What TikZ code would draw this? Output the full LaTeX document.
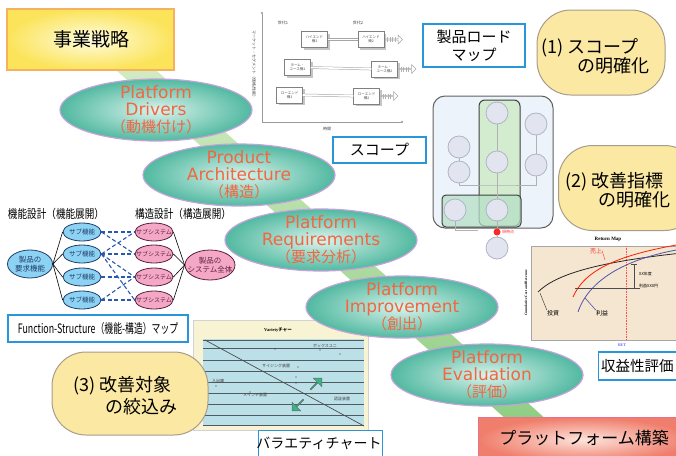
\documentclass[tikz,border=0pt]{standalone}
\usepackage{fontspec}
\usepackage{graphicx}
\setmainfont{Noto Sans CJK JP}
\newfontfamily\jp{Noto Sans CJK JP}
\newfontfamily\lat{DejaVu Sans}
\newfontfamily\ser{Liberation Serif}
\usetikzlibrary{shapes.geometric,shapes.arrows,arrows.meta}
\definecolor{bandTop}{HTML}{D3EBC3}
\definecolor{bandBot}{HTML}{8ACB7E}
\definecolor{tealIn}{HTML}{D9F3EC}
\definecolor{tealOut}{HTML}{52B9A1}
\definecolor{ellBorder}{HTML}{C3A3DA}
\definecolor{ellText}{HTML}{F26640}
\definecolor{yBox}{HTML}{FBE8A2}
\definecolor{yBoxBorder}{HTML}{A89C8C}
\definecolor{blueBox}{HTML}{2896D8}
\definecolor{stratIn}{HTML}{FFFCE0}
\definecolor{stratOut}{HTML}{FBE45A}
\definecolor{stratBorder}{HTML}{F5B060}
\definecolor{pfIn}{HTML}{FDE4DC}
\definecolor{pfOut}{HTML}{F07E6C}
\definecolor{pfBorder}{HTML}{E8708A}
\definecolor{sfBlue}{HTML}{8CD2F2}
\definecolor{sfBorder}{HTML}{203C6A}
\definecolor{ssPink}{HTML}{F5A8C6}
\definecolor{ssBorder}{HTML}{5A2040}
\definecolor{dashBlue}{HTML}{2858B0}
\definecolor{netBg}{HTML}{EDF3FA}
\definecolor{netGreen}{HTML}{D3ECCF}
\definecolor{netGreen2}{HTML}{B5DFC6}
\definecolor{netCirc}{HTML}{E2E5EF}
\definecolor{netCircB}{HTML}{AEB5C4}
\definecolor{rmBg}{HTML}{F4E6D0}
\definecolor{vcFrame}{HTML}{F8F3D2}
\definecolor{vcBlue}{HTML}{BCE0E8}
\definecolor{vcArrow}{HTML}{38B48A}
\begin{document}
\begin{tikzpicture}[x=1pt,y=-1pt,
  ell/.style={ellipse, draw=ellBorder, line width=1.2pt, inner color=tealIn, outer color=tealOut, minimum width=192pt, minimum height=62pt, inner sep=0pt},
  elltext/.style={text=ellText, align=center, font=\lat\fontsize{17}{17}\selectfont, inner sep=0pt},
  bbox/.style={draw=blueBox, line width=1.2pt, fill=white, inner sep=0pt, align=center},
  ybox/.style={draw=yBoxBorder, line width=1pt, fill=yBox, rounded corners=34pt},
  ytext/.style={align=left, font=\jp\fontsize{18}{19}\selectfont, inner sep=0pt, anchor=west},
  sf/.style={ellipse, draw=sfBorder, line width=0.8pt, fill=sfBlue, minimum width=38pt, minimum height=18pt, inner sep=0pt, inner xsep=-3pt, font=\jp\fontsize{6.5}{7}\selectfont, text=sfBorder},
  ss/.style={ellipse, draw=ssBorder, line width=0.8pt, fill=ssPink, minimum width=38pt, minimum height=18pt, inner sep=0pt, inner xsep=-5pt, font=\jp\fontsize{6}{7}\selectfont, text=ssBorder},
  fsline/.style={draw=black, line width=0.6pt},
  fsdash/.style={draw=dashBlue, line width=1.1pt, dash pattern=on 4pt off 2.5pt},
  sbox/.style={draw=gray, fill=white, line width=0.5pt, inner sep=0pt, minimum width=26pt, minimum height=16pt, align=center, font=\jp\fontsize{3.5}{4}\selectfont, text=gray!60!black},
  ncirc/.style={circle, draw=netCircB, fill=netCirc, line width=0.8pt, minimum size=22pt, inner sep=0pt},
  tinytext/.style={font=\jp\fontsize{4}{4.5}\selectfont, text=gray!50!black, inner sep=0pt},
  dblarrow/.style={draw=gray!70, line width=0.5pt, double=white, double distance=1.6pt},
]
\useasboundingbox (0,0) rectangle (676,455);
\clip (0,0) rectangle (676,455);
% band
\shade[top color=bandTop, bottom color=bandBot] (107,62) -- (147,62) -- (586,455) -- (546,455) -- cycle;

% ---- scope chart (top centre)
\draw[gray!80, line width=0.8pt, {Circle[length=2pt]}-{Circle[length=2pt]}] (262,12) -- (262,122) -- (403,122);
\node[tinytext] (g1) at (283,23) {世代1};
\node[tinytext] (g2) at (358,23) {世代2};
\node[tinytext] (tm) at (327,129) {時間};
\node[tinytext, rotate=-90] (ax) at (254,65) {マーケット・セグメント（価格/性能）};
\foreach \n/\x/\y/\t in {h1/314.5/39.5/ハイエンド\\機1, h2/371/39.5/ハイエンド\\機2, m1/297.5/67.5/ホーム・\\ユース機1, m2/384.5/69/ホーム・\\ユース機2, l1/289.5/95/ローエンド\\機1, l2/366.5/96/ローエンド\\機2}{
  \fill[gray!45] (\x-11,\y-6) rectangle (\x+15,\y+10);
  \node[sbox] (\n) at (\x,\y) {\t};
}
\draw[dblarrow] (h1.east) -- (h2.west);
\draw[dblarrow] (m1.east) -- (m2.west);
\draw[dblarrow] (l1.east) -- (l2.west);
\foreach \n in {h2,m2,l2}{
  \node[single arrow, draw=gray!70, fill=white, line width=0.5pt, minimum height=17pt, minimum width=9pt, single arrow head extend=1.5pt, inner sep=0pt, anchor=west] (\n a) at ([xshift=1pt]\n.east) {};
  \foreach \d in {3,5.5,8,10.5}{\draw[gray!60, line width=0.4pt] ([xshift=\d pt,yshift=2.5pt]\n.east) -- ([xshift=\d pt,yshift=-2.5pt]\n.east);}
}

% ---- network (right centre)
\draw[fill=netBg, draw=gray!75!black, line width=1pt, rounded corners=12pt] (433,96) rectangle (553,228);
\draw[fill=netGreen, draw=gray!50!black, line width=1pt, rounded corners=6pt] (479,100) rectangle (520,226);
\draw[fill=netGreen2, fill opacity=0.75, draw=gray!50!black, line width=1pt, rounded corners=4pt] (442,195) rectangle (521,227);
\node[ncirc] (n1) at (459,147) {};
\node[ncirc] (n2) at (459,172) {};
\node[ncirc] (n3) at (497,113) {};
\node[ncirc] (n4) at (497,162) {};
\node[ncirc] (n5) at (497,210) {};
\node[ncirc] (n6) at (455,210) {};
\node[ncirc] (n7) at (536,124) {};
\node[ncirc] (n8) at (536,165) {};
\node[ncirc] (n9) at (497,248) {};
\draw[gray!60] (n1) -- (n2) (n3) -- (n4) -- (n5) (n7) -- (n8);
\draw[gray!60] (n2.south) |- (497,185) -| (n8.south);
\draw[gray!60] (n6.south) |- (478,230);
\node[circle, fill=red!85, inner sep=0pt, minimum size=7pt] (now) at (497,232) {};
\draw[gray!60] (n5) -- (now) -- (n9);
\node[font=\jp\fontsize{4}{4}\selectfont, text=red!80, anchor=west, inner sep=0pt] (nowl) at (502,232) {現時点};

% ---- return map
\node[font=\ser\bfseries\fontsize{5}{5}\selectfont, inner sep=0pt] (rmt) at (608,239) {Return Map};
\draw[gray!70, fill=rmBg] (531,246) rectangle (682,340);
\node[font=\ser\bfseries\fontsize{3.5}{4}\selectfont, rotate=90, inner sep=0pt] (rmy) at (526,293) {Cumulative Cost and Revenue};
\node[font=\ser\bfseries\fontsize{4}{4}\selectfont, text=blue!60, inner sep=0pt] (rmx) at (622,345) {BET};
\draw[red!70, densely dotted, line width=0.6pt] (626,246) -- (626,340);
\draw[black!85, line width=0.8pt] (538,292) .. controls (556,274) and (598,262) .. (682,253);
\draw[red!80!orange, line width=0.8pt] (573,297) .. controls (584,272) and (612,256) .. (682,244);
\draw[blue!35!gray, line width=0.8pt] (578,312) .. controls (588,282) and (622,259) .. (682,249);
\draw[black!70, line width=0.5pt] (634,264) -- (634,288) (631,264) -- (637,264);
\draw[black!70, line width=0.5pt] (575,288) -- (640,288);
\node[font=\jp\fontsize{4}{4}\selectfont, anchor=west, inner sep=0pt] (rm1) at (639,274) {XX年度};
\node[font=\jp\fontsize{4}{4}\selectfont, anchor=west, inner sep=0pt] (rm2) at (639,286) {利益XXX円};
\node[font=\jp\itshape\fontsize{6}{6}\selectfont, text=red!80, inner sep=0pt] (rmu) at (596,251) {売上};
\node[font=\jp\fontsize{6}{6}\selectfont, inner sep=0pt] (rmi) at (553,313) {投資};
\node[font=\jp\fontsize{6}{6}\selectfont, inner sep=0pt] (rmp) at (602,313) {利益};
\draw[black!70, line width=0.5pt] (rmi.north west) -- (540,293);
\draw[blue!35!gray, line width=0.6pt] (rmp.north west) -- (585,298);
\draw[red!70, line width=0.5pt] (rmu.east) -- (605,260);

% ---- variety chart
\draw[draw=gray!35, fill=vcFrame] (193,320) rectangle (368,430);
\fill[vcBlue] (203,339) rectangle (364,425);
\node[font=\ser\bfseries\fontsize{4.5}{5}\selectfont, inner sep=0pt] (vct) at (278,330) {Variety{\jp チャー}};
\foreach \yy in {340,348,360,371,382,393,404,415,425}{\draw[gray!55!cyan!40!black, line width=0.5pt] (203,\yy) -- (364,\yy);}
\draw[gray!60!black, line width=0.7pt] (205,340) -- (364,426);
\node[tinytext] (v1) at (325,346) {ボックスユニ};
\node[tinytext] (v2) at (276,366) {サイジング装置};
\node[tinytext] (v3) at (218,381) {入出庫};
\node[tinytext] (v4) at (255,395) {メインテ装置};
\node[tinytext] (v5) at (342,399) {認証装置};
\foreach \px/\py in {275/349, 320/350, 340/354, 296/377, 298/367, 216/386, 296/383, 250/392}{\fill[gray!40!black] (\px,\py) circle (0.6pt);}
\node[single arrow, draw=black!60, fill=vcArrow, minimum height=16pt, minimum width=12pt, single arrow head extend=2pt, inner sep=0pt, rotate=45] (va1) at (316,384) {};
\node[single arrow, draw=black!60, fill=vcArrow, minimum height=16pt, minimum width=12pt, single arrow head extend=2pt, inner sep=0pt, rotate=-135] (va2) at (298,405) {};

% ---- top-left box
\node[draw=stratBorder, line width=1.2pt, inner color=stratIn, outer color=stratOut, minimum width=167pt, minimum height=61pt] (strat) at (90.5,39.5) {};
\node[font=\jp\fontsize{19}{19}\selectfont, inner sep=0pt] (stratt) at (91,39) {事業戦略};

% ---- ellipses
\node[ell] (e1) at (156,110) {};
\node[elltext] (t1) at (e1.center) {Platform\\Drivers\\{\jp\fontsize{15}{17}\selectfont （動機付け）}};
\node[ell] (e2) at (239,175) {};
\node[elltext] (t2) at (e2.center) {Product\\Architecture\\{\jp\fontsize{15}{17}\selectfont （構造）}};
\node[ell] (e3) at (321,240) {};
\node[elltext] (t3) at (e3.center) {Platform\\Requirements\\{\jp\fontsize{15}{17}\selectfont （要求分析）}};
\node[ell] (e4) at (402,307) {};
\node[elltext] (t4) at (e4.center) {Platform\\Improvement\\{\jp\fontsize{15}{17}\selectfont （創出）}};
\node[ell] (e5) at (487,375) {};
\node[elltext] (t5) at (e5.center) {Platform\\Evaluation\\{\jp\fontsize{15}{17}\selectfont （評価）}};

% ---- blue label boxes
\node[bbox, minimum width=102pt, minimum height=43pt, font=\jp\fontsize{15}{18}\selectfont] (road) at (474,45.5) {製品ロード\\マップ};
\node[bbox, minimum width=93pt, minimum height=26pt, font=\jp\fontsize{15}{15}\selectfont] (scope) at (379.5,150) {スコープ};
\node[bbox, minimum width=92pt, minimum height=28pt, anchor=west] (rev) at (598,366) {};
\node[font=\jp\fontsize{14.5}{15}\selectfont, anchor=west, inner sep=0pt] (revt) at (601,366) {収益性評価};
\node[bbox, minimum width=124pt, minimum height=32pt, anchor=north west] (vcb) at (258,430) {};
\node[font=\jp\fontsize{14}{14}\selectfont, inner sep=0pt] (vcbt) at (319,443) {バラエティチャート};

% ---- yellow rounded boxes
\node[ybox, minimum width=128pt, minimum height=85pt] (y1) at (601,52.5) {};
\node[ytext] (y1t) at (541,56) {(1) スコープ\\\hspace*{36pt}の明確化};
\node[ybox, minimum width=140pt, minimum height=85pt, anchor=west] (y2) at (558,188) {};
\node[ytext] (y2t) at (565,190) {(2) 改善指標\\\hspace*{33pt}の明確化};
\node[ybox, minimum width=156pt, minimum height=83pt] (y3) at (130,393.5) {};
\node[ytext, font=\jp\fontsize{18}{22}\selectfont] (y3t) at (73,396) {(3) 改善対象\\\hspace*{32pt}の絞込み};

% ---- platform construction
\node[draw=pfBorder, line width=1.2pt, inner color=pfIn, outer color=pfOut, minimum width=210pt, minimum height=44pt, anchor=north west] (pf) at (478,417) {};
\node[font=\jp\fontsize{17}{17}\selectfont, inner sep=0pt] (pft) at (584,438) {プラットフォーム構築};

% ---- function-structure map
\node[font=\jp\fontsize{12}{12}\selectfont, inner sep=0pt] (fd) at (56,214) {\scalebox{0.8}[1]{機能設計（機能展開）}};
\node[font=\jp\fontsize{12}{12}\selectfont, inner sep=0pt] (sd) at (183,214) {\scalebox{0.8}[1]{構造設計（構造展開）}};
\node[ellipse, draw=sfBorder, line width=0.8pt, fill=sfBlue, minimum width=45pt, minimum height=28pt, inner sep=0pt, inner xsep=-3pt, font=\jp\fontsize{7.5}{8.5}\selectfont, text=sfBorder, align=center] (req) at (30,264) {製品の\\要求機能};
\node[ellipse, draw=ssBorder, line width=0.8pt, fill=ssPink, minimum width=50pt, minimum height=30pt, inner sep=0pt, inner xsep=-8pt, font=\jp\fontsize{7.5}{8.5}\selectfont, text=ssBorder, align=center] (sys) at (210,265) {製品の\\システム全体};
\foreach \i/\yy in {1/232,2/254,3/277,4/300}{
  \node[sf] (sf\i) at (82,\yy) {サブ機能};
  \node[ss] (ss\i) at (154,\yy) {サブシステム};
  \draw[fsline] (req.east) -- (sf\i.west);
  \draw[fsline] (ss\i.east) -- (sys.west);
}
\foreach \a/\b in {1/1,1/2,2/1,2/2,2/3,2/4,3/3,4/4,4/3}{
  \draw[fsdash] (sf\a.east) -- (ss\b.west);
}
\node[bbox, minimum width=180pt, minimum height=27pt, font=\jp\fontsize{13}{13}\selectfont] (fsm) at (98,328.5) {\scalebox{0.68}[1]{Function-Structure（機能-構造）マップ}};
\end{tikzpicture}
\end{document}
